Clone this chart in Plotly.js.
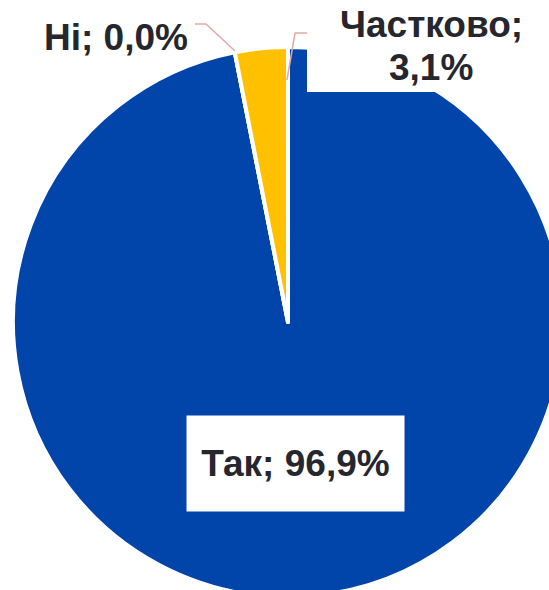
<!DOCTYPE html>
<html>
<head>
<meta charset="utf-8">
<script src="https://cdn.plot.ly/plotly-3.0.1.min.js"></script>
<style>
  html, body { margin: 0; padding: 0; overflow: hidden; background: #ffffff; }
  #chart { width: 600px; height: 650px; }
</style>
</head>
<body>
<div id="chart"></div>
<script>
// Data
const labels = ['Так', 'Ні', 'Частково'];
const values = [96.9, 0.0, 3.1];
const sliceColors = ['#0145AB', '#FFFFFF', '#FFC000'];

const W = 600, H = 650;
const px = x => x / W;
const py = y => 1 - y / H;
const fmt = v => v.toFixed(1).replace('.', ',') + '%';

const textColor = '#25262E';
const font = { family: 'Liberation Sans, Arial, sans-serif', size: 37, color: textColor, weight: 'bold' };

const cx = 288, cy = 322, r = 275;

const trace = {
  type: 'pie',
  labels: labels,
  values: values,
  sort: false,
  direction: 'clockwise',
  rotation: 0,
  textinfo: 'none',
  hoverinfo: 'label+percent',
  marker: { colors: sliceColors, line: { color: '#FFFFFF', width: 4 } },
  domain: { x: [px(cx - r), px(cx + r)], y: [py(cy + r), py(cy - r)] },
  showlegend: false
};

const leaderColor = '#E3A9A3';
const layout = {
  width: W,
  height: H,
  margin: { l: 0, r: 0, t: 0, b: 0 },
  paper_bgcolor: '#FFFFFF',
  showlegend: false,
  shapes: [
    // white label box for "Частково"
    { type: 'rect', xref: 'paper', yref: 'paper', x0: px(307), x1: px(600), y0: py(92), y1: py(-5),
      fillcolor: '#FFFFFF', line: { width: 0 }, layer: 'above' },
    // leader for "Ні"
    { type: 'path', xref: 'paper', yref: 'paper',
      path: `M ${px(195)},${py(24)} L ${px(206)},${py(24)} L ${px(235)},${py(51)}`,
      line: { color: leaderColor, width: 1.5 }, layer: 'above' },
    // leader for "Частково"
    { type: 'path', xref: 'paper', yref: 'paper',
      path: `M ${px(307)},${py(33)} L ${px(295)},${py(33)} L ${px(287)},${py(80)}`,
      line: { color: leaderColor, width: 1.5 }, layer: 'above' }
  ],
  annotations: [
    { xref: 'paper', yref: 'paper', x: px(295.5), y: py(463.5), xanchor: 'center', yanchor: 'middle',
      text: labels[0] + '; ' + fmt(values[0]), showarrow: false, font: font,
      bgcolor: '#FFFFFF', width: 217, height: 95, borderpad: 0 },
    { xref: 'paper', yref: 'paper', x: px(115.5), y: py(37), xanchor: 'center', yanchor: 'middle',
      text: labels[1] + '; ' + fmt(values[1]), showarrow: false, font: font },
    { xref: 'paper', yref: 'paper', x: px(431), y: py(24), xanchor: 'center', yanchor: 'middle',
      text: labels[2] + ';', showarrow: false, font: font },
    { xref: 'paper', yref: 'paper', x: px(431), y: py(67), xanchor: 'center', yanchor: 'middle',
      text: fmt(values[2]), showarrow: false, font: font }
  ]
};

Plotly.newPlot('chart', [trace], layout, { displayModeBar: false, staticPlot: true });
</script>
</body>
</html>
